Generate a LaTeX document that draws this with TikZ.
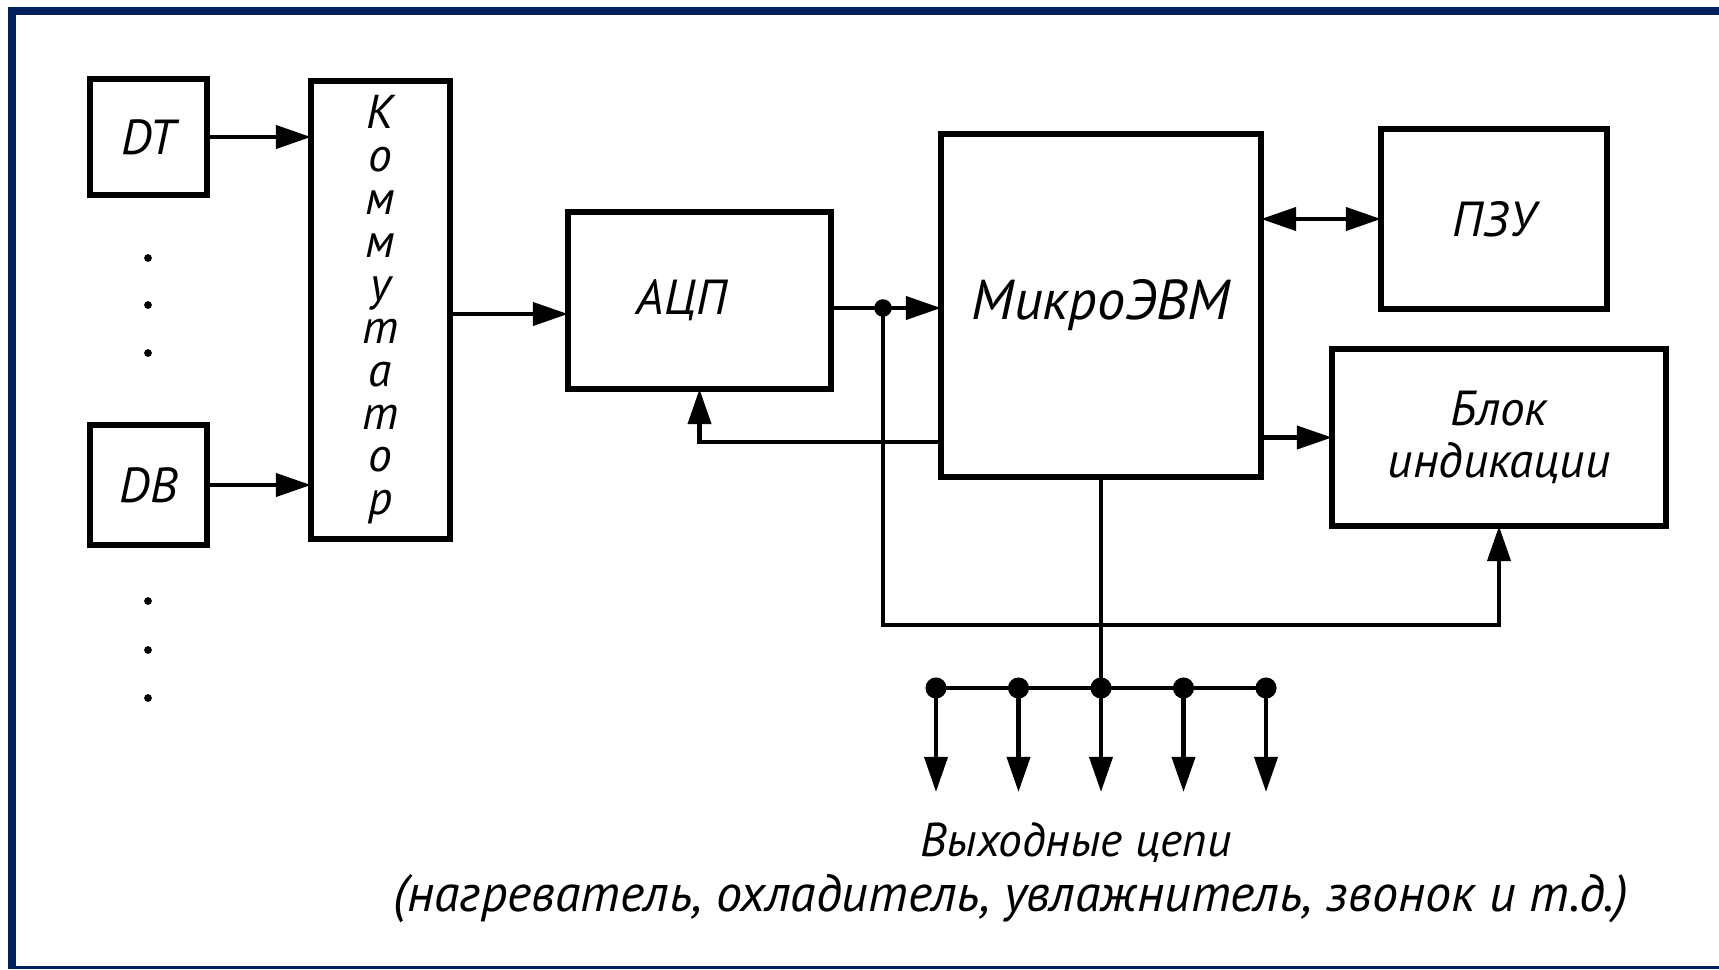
\documentclass[tikz,border=0pt]{standalone}
\usepackage{fontspec}
\setmainfont{PT Sans}
\usetikzlibrary{arrows.meta,positioning,calc}
\definecolor{framecol}{RGB}{0,32,96}
\tikzset{
  blok/.style={draw=black,line width=1.8pt,inner sep=0pt,outer sep=0pt,
    font=\fontsize{14}{15}\selectfont\itshape,align=center}
}

\begin{document}
\begin{tikzpicture}[x=0.1mm,y=-0.1mm,
  arrow/.style={-{Triangle[length=10pt,width=6.5pt]},line width=1.3pt},
  biarrow/.style={{Triangle[length=10pt,width=6.5pt]}-{Triangle[length=10pt,width=6.5pt]},line width=1.3pt},
  link/.style={line width=1.3pt},
  junc/.style={circle,fill=black,inner sep=0pt,minimum size=6pt}
]
  \useasboundingbox (0,0) rectangle (1719,969);
  % frame
  \fill[framecol] (8,7) rectangle (16,969);
  \fill[framecol] (8,7) rectangle (1719,15);
  \fill[framecol] (8,966) rectangle (1719,969);

  % sensors and switch
  \node[blok,minimum width=11.7mm,minimum height=11.6mm] (dt) at (148.5,137) {DT};
  \node[blok,minimum width=11.7mm,minimum height=12mm] (db) at (148.5,485) {DB};
  \foreach \y in {258,305,353,601,650,698}
    \fill (148,\y) circle (1.1pt);
  \node[blok,minimum width=13.9mm,minimum height=45.8mm,
    font=\fontsize{13.5}{12.2}\selectfont\itshape] (kom) at (380.5,310)
    {К\\о\\м\\м\\у\\т\\а\\т\\о\\р};

  % converter, computer, memory, display
  \node[blok,minimum width=26.3mm,minimum height=17.7mm] (adc) at (699.5,300.5) {АЦП\hspace*{3.5mm}};
  \node[blok,minimum width=32mm,minimum height=34.3mm,
    font=\fontsize{16}{17}\selectfont\itshape] (mcu) at (1101,305.5) {МикроЭВМ};
  \node[blok,minimum width=22.6mm,minimum height=18mm] (rom) at (1494,219) {ПЗУ};
  \node[blok,minimum width=33.4mm,minimum height=17.7mm] (ind) at (1499,437.5) {Блок\\индикации};

  \draw[arrow] (dt) -- (dt -| kom.west);
  \draw[arrow] (db) -- (db -| kom.west);
  \draw[arrow] (kom.east |- 0,314) -- (adc.west |- 0,314);

  \node[junc,minimum size=5pt] (jn) at (883,308) {};
  \draw[link] (adc.east |- jn) -- (jn.center);
  \draw[arrow] (jn.center) -- (mcu.west |- jn);
  \draw[arrow] (jn.center) -- (jn |- 0,625) -| (ind.south);
  \draw[arrow] (mcu.west |- 0,442) -| (adc.south);
  \draw[biarrow] (mcu.east |- rom.west) -- (rom.west);
  \draw[arrow] (mcu.east |- ind.west) -- (ind.west);

  % output bus
  \coordinate (bus) at (mcu.south |- 0,688);
  \draw[link] (mcu.south) -- (bus);
  \foreach \i/\dx in {1/-165,2/-82.5,3/0,4/82.5,5/165} {
    \node[junc] (tap\i) at ($(bus)+(\dx,0)$) {};
    \coordinate (out\i) at ($(bus)+(\dx,104)$);
    \draw[arrow] (tap\i.center) -- (out\i);
  }
  \draw[link] (tap1.center) -- (tap5.center);

  \node[font=\fontsize{13.5}{15}\selectfont\itshape] (outlbl) at (1076,843) {Выходные цепи};
  \node[font=\fontsize{14.8}{15}\selectfont\itshape] (outlist) at (1011,899)
    {(нагреватель, охладитель, увлажнитель, звонок и т.д.)};
\end{tikzpicture}
\end{document}
